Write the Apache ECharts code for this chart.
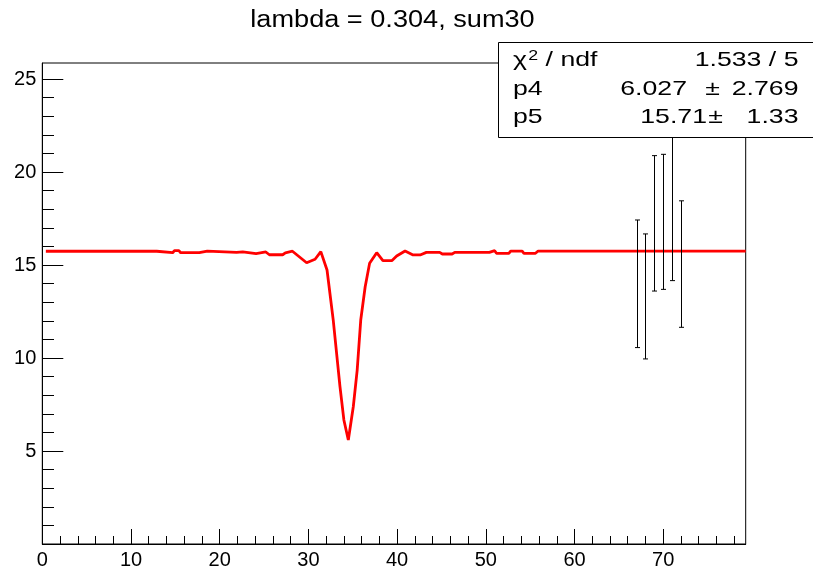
<!DOCTYPE html>
<html>
<head>
<meta charset="utf-8">
<script src="https://cdn.jsdelivr.net/npm/echarts@6/dist/echarts.min.js"></script>
<style>
html,body{margin:0;padding:0;background:#fff;}
#chart{width:813px;height:566px;}
</style>
</head>
<body>
<div id="chart"></div>
<script>
// Fit function (red curve) sampled points
const fitX = [0.4,12.9,13.1,14.7,14.9,15.4,15.6,17.7,17.9,18.6,18.8,21.9,22.1,22.6,22.8,24.1,24.3,25.2,25.6,27.1,27.4,28.2,29.8,30.75,31.4,32.1,32.8,33.56,34.0,34.5,35.06,35.5,35.9,36.4,36.9,37.7,38.4,39.4,39.95,40.9,41.8,42.6,43.3,44.8,45.1,46.2,46.5,50.4,50.6,51.0,51.2,52.6,52.8,54.1,54.3,55.6,55.9,79.3];
const fitY = [15.74,15.74,15.66,15.66,15.77,15.77,15.66,15.66,15.75,15.75,15.68,15.68,15.71,15.71,15.61,15.61,15.70,15.70,15.55,15.55,15.65,15.74,15.12,15.31,15.72,14.73,12.04,8.46,6.67,5.59,7.38,9.35,12.04,13.83,15.09,15.66,15.23,15.23,15.48,15.75,15.54,15.54,15.68,15.68,15.59,15.59,15.68,15.68,15.77,15.77,15.63,15.63,15.75,15.75,15.63,15.63,15.75,15.75];
// Data points with errors (only error bars drawn)
const errX = [67,68,69,70,71,72];
const errY = [13.99,13.31,17.24,17.32,18.10,15.05];
const errE = [3.43,3.36,3.64,3.63,3.94,3.40];
// Axis ticks
const xMajor = [0,10,20,30,40,50,60,70];
const xMinor = [2,4,6,8,12,14,16,18,22,24,26,28,32,34,36,38,42,44,46,48,52,54,56,58,62,64,66,68,72,74,76,78];
const yMajor = [0,5,10,15,20,25];
const yLabels = [5,10,15,20,25];
const yMinor = [1,2,3,4,6,7,8,9,11,12,13,14,16,17,18,19,21,22,23,24];
const titleText = 'lambda = 0.304, sum30';
const statsNames = ['{a|χ}{s|2}{a| / ndf}','p4','p5'];
const statsValues = ['1.533 / 5','6.027','15.71'];
const statsErrors = ['','2.769','1.33'];

const FONT = 'Liberation Sans, Arial, Helvetica, sans-serif';
const chart = echarts.init(document.getElementById('chart'), null, {renderer:'canvas'});
const black = '#000';
const xAxisBase = {type:'value', min:0, max:79.3, position:'bottom', gridIndex:0, splitLine:{show:false}};
const yAxisBase = {type:'value', min:0, max:25.86, position:'left', gridIndex:0, splitLine:{show:false}};

const SX = 1.27;
function txt(x, y, text, align, extra){
  return Object.assign({type:'text', x:x, y:y, z:101, scaleX:SX,
    style:{text:text, font:'21px '+FONT, fill:black, textAlign:align, textVerticalAlign:'middle'}}, extra||{});
}
const graphics = [
  {type:'text', x:392.5, y:21, z:100, scaleX:1.18, style:{text:titleText, font:'23px '+FONT, fill:black, textAlign:'center', textVerticalAlign:'middle'}},
  {type:'rect', shape:{x:498.5, y:42.5, width:330, height:95}, z:100, style:{fill:'#fff', stroke:black, lineWidth:1}}
];
const rowY = [60, 89.2, 117.5];
const valRight = [798.5, 687, 707];
const pmCenter = [0, 712.5, 715.5];
statsNames.forEach((t,i)=>{
  const g = txt(513, rowY[i], t, 'left');
  if (i === 0) {
    g.style.rich = {
      a:{font:'21px '+FONT, fill:black},
      s:{font:'14px '+FONT, fill:black, verticalAlign:'top', padding:[0,0,6,1]}
    };
  }
  graphics.push(g);
  graphics.push(txt(valRight[i], rowY[i], statsValues[i], 'right'));
  if (statsErrors[i]) {
    graphics.push(txt(pmCenter[i], rowY[i], '±', 'center'));
    graphics.push(txt(798.5, rowY[i], statsErrors[i], 'right'));
  }
});

chart.setOption({
  animation:false,
  backgroundColor:'#fff',
  grid:{left:42.3, right:67.3, top:63, bottom:22, show:true, borderColor:black, borderWidth:1, backgroundColor:'transparent', containLabel:false, outerBoundsMode:'none'},
  xAxis:[
    Object.assign({}, xAxisBase, {
      axisLine:{show:true, lineStyle:{color:black, width:1}},
      axisTick:{show:true, inside:true, length:15, customValues:xMajor, lineStyle:{color:black, width:1}},
      axisLabel:{show:true, customValues:xMajor, color:black, fontSize:20, fontFamily:FONT, margin:6}
    }),
    Object.assign({}, xAxisBase, {
      axisLine:{show:false},
      axisTick:{show:true, inside:true, length:8, customValues:xMinor, lineStyle:{color:black, width:1}},
      axisLabel:{show:false}
    })
  ],
  yAxis:[
    Object.assign({}, yAxisBase, {
      axisLine:{show:true, lineStyle:{color:black, width:1}},
      axisTick:{show:true, inside:true, length:21, customValues:yMajor, lineStyle:{color:black, width:1}},
      axisLabel:{show:true, customValues:yLabels, color:black, fontSize:20, fontFamily:FONT, margin:6}
    }),
    Object.assign({}, yAxisBase, {
      axisLine:{show:false},
      axisTick:{show:true, inside:true, length:11.7, customValues:yMinor, lineStyle:{color:black, width:1}},
      axisLabel:{show:false}
    })
  ],
  series:[
    {
      type:'line', xAxisIndex:0, yAxisIndex:0,
      data: fitX.map((x,i)=>[x, fitY[i]]),
      showSymbol:false, symbol:'none',
      lineStyle:{color:'#ff0000', width:2.8},
      z:3
    },
    {
      type:'custom', xAxisIndex:0, yAxisIndex:0,
      data: errX.map((x,i)=>[x, errY[i], errE[i]]),
      z:4,
      renderItem:function(params, api){
        const x = api.value(0), y = api.value(1), e = api.value(2);
        const top = api.coord([x, y+e]);
        const bot = api.coord([x, y-e]);
        const cx = Math.round(top[0])+0.5;
        const st = {stroke:black, lineWidth:1};
        const cw = 2.5;
        return {type:'group', children:[
          {type:'line', shape:{x1:cx, y1:top[1], x2:cx, y2:bot[1]}, style:st},
          {type:'line', shape:{x1:cx-cw, y1:top[1], x2:cx+cw, y2:top[1]}, style:st},
          {type:'line', shape:{x1:cx-cw, y1:bot[1], x2:cx+cw, y2:bot[1]}, style:st}
        ]};
      }
    }
  ],
  graphic: graphics
});
</script>
</body>
</html>
